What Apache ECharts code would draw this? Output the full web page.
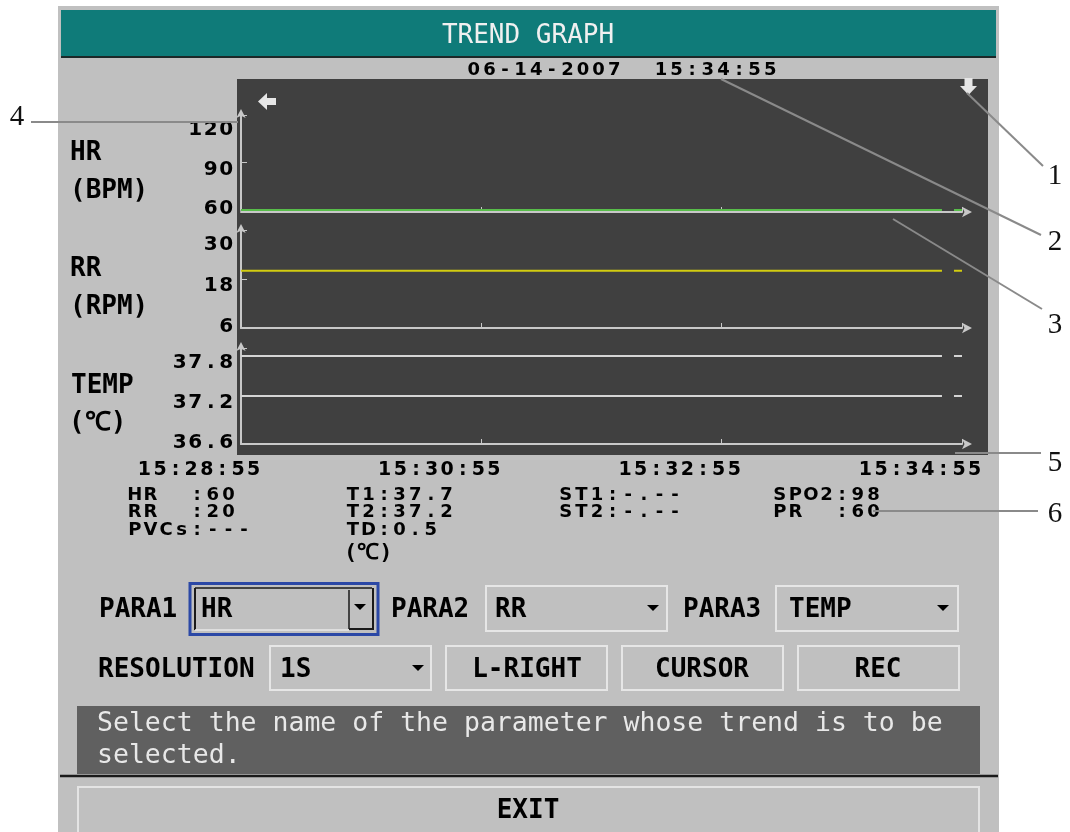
<!DOCTYPE html>
<html>
<head>
<meta charset="utf-8">
<script src="https://cdn.jsdelivr.net/npm/echarts@6/dist/echarts.min.js"></script>
<style>
html,body{margin:0;padding:0;background:#ffffff;}
#chart{width:1070px;height:832px;}
</style>
</head>
<body>
<div id="chart"></div>
<script>
// ---------------- data ----------------
const timeSec    = [0, 60, 120, 180, 240, 300, 350, 353, 356, 360];
const timeLabels = ['15:28:55', '15:30:55', '15:32:55', '15:34:55'];
const hrValues   = [60, 60, 60, 60, 60, 60, 60, null, 60, 60];
const rrValues   = [20, 20, 20, 20, 20, 20, 20, null, 20, 20];
const t1Values   = [37.7, 37.7, 37.7, 37.7, 37.7, 37.7, 37.7, null, 37.7, 37.7];
const t2Values   = [37.2, 37.2, 37.2, 37.2, 37.2, 37.2, 37.2, null, 37.2, 37.2];
const hrTicks    = [60, 90, 120];
const rrTicks    = [6, 18, 30];
const tempTicks  = [36.6, 37.2, 37.8];
const paramNames = ['HR', '(BPM)', 'RR', '(RPM)', 'TEMP', '(℃)'];
const statusCol1 = ['HR  :60', 'RR  :20', 'PVCs:---'];
const statusCol2 = ['T1:37.7', 'T2:37.2', 'TD:0.5'];
const statusCol3 = ['ST1:-.--', 'ST2:-.--'];
const statusCol4 = ['SPO2:98', 'PR  :60'];
const titleText  = 'TREND GRAPH';
const dateText   = '06-14-2007  15:34:55';
const helpLines  = ['Select the name of the parameter whose trend is to be', 'selected.'];

// ---------------- helpers ----------------
const MONO = 'DejaVu Sans Mono';
const WIDE = 'DejaVu Sans';
function chars(s, key) {
  return Array.from(s).map(c => '{' + key + '|' + c + '}').join('');
}
function smallRich(size, cell, color, extra) {
  return Object.assign({fontFamily: WIDE, fontWeight: 'bold', fontSize: size, width: cell,
    align: 'center', color: color, fill: color}, extra || {});
}
const G = [];
function rect(x, y, w, h, style, z) {
  G.push({type: 'rect', silent: true, z: (z === undefined ? -10 : z), shape: {x: x, y: y, width: w, height: h}, style: style});
}
function seg(x1, y1, x2, y2, stroke, lw, z) {
  G.push({type: 'line', silent: true, z: (z === undefined ? 5 : z), shape: {x1: x1, y1: y1, x2: x2, y2: y2}, style: {stroke: stroke, lineWidth: lw}});
}
function poly(points, fill, z) {
  G.push({type: 'polygon', silent: true, z: (z === undefined ? 5 : z), shape: {points: points}, style: {fill: fill}});
}
function smallText(x, y, s, size, color, align) {
  align = align || 'left';
  G.push({type: 'text', silent: true, z: 20, x: x, y: y, style: {
    text: chars(s, 'c'), align: align, verticalAlign: 'middle', textAlign: align, textVerticalAlign: 'middle',
    rich: {c: smallRich(size, 15.6, color)}}});
}
function bigText(x, y, s, size, color, align, weight, family) {
  align = align || 'left';
  G.push({type: 'text', silent: true, z: 20, x: x, y: y, style: {
    text: s, fill: color, fontSize: size, fontFamily: family || MONO, fontWeight: weight || 'bold',
    align: align, verticalAlign: 'middle', textAlign: align, textVerticalAlign: 'middle'}});
}

// ---------------- frame / backgrounds ----------------
rect(58, 6, 941, 826, {fill: '#c0c0c0'});
rect(61, 10, 935, 47, {fill: '#0f7b79'});
seg(61, 57, 996, 57, '#1c2828', 2, -9);
rect(237, 79, 751, 376, {fill: '#404040'});
rect(77, 706, 903, 68, {fill: '#606060'});
seg(60, 776, 998, 776, '#1a1a1a', 2.5, -9);
rect(78, 787, 901, 50, {fill: 'none', stroke: '#e4e4e4', lineWidth: 2}, -9);

// title & date
bigText(528, 36, titleText, 26, '#f0f0f0', 'center', 'normal');
smallText(622, 70, dateText, 18, '#000000', 'center');

// icons in plot
poly([[258, 101.5], [267, 93], [267, 110]], '#e6e6e6', 6);
rect(266, 98, 10, 7, {fill: '#e6e6e6'}, 6);
poly([[960, 86], [977, 86], [968.5, 95]], '#e6e6e6', 6);
rect(964.5, 78, 8, 9, {fill: '#e6e6e6'}, 6);

// parameter names at left
bigText(70, 153, paramNames[0], 26, '#000');
bigText(70, 191, paramNames[1], 26, '#000');
bigText(70, 269, paramNames[2], 26, '#000');
bigText(70, 307, paramNames[3], 26, '#000');
bigText(71, 386, paramNames[4], 26, '#000');
bigText(69, 423, paramNames[5], 26, '#000');

// status block
[statusCol1, statusCol2, statusCol3, statusCol4].forEach(function (col, ci) {
  const xs = [127, 345, 558, 772];
  col.forEach(function (s, ri) { smallText(xs[ci], 495 + ri * 17.5, s, 18, '#000'); });
});
bigText(344, 553, '(℃)', 22, '#000');

// controls
bigText(99, 610, 'PARA1', 26, '#000');
bigText(391, 610, 'PARA2', 26, '#000');
bigText(683, 610, 'PARA3', 26, '#000');
bigText(98, 670, 'RESOLUTION', 26, '#000');

rect(190, 583.5, 188, 51, {fill: 'none', stroke: '#2b48a6', lineWidth: 3}, -9);
seg(195, 588, 195, 630, '#1a1a1a', 2, -8);
seg(195, 588, 372, 588, '#1a1a1a', 1.5, -8);
seg(195, 630, 349, 630, '#e8e8e8', 1.5, -8);
seg(349, 590, 349, 629, '#1a1a1a', 1.5, -8);
seg(349, 629, 374, 629, '#1a1a1a', 2, -8);
seg(373, 588, 373, 629, '#1a1a1a', 2, -8);
rect(486, 586, 181, 45, {fill: 'none', stroke: '#e6e6e6', lineWidth: 2}, -9);
rect(776, 586, 182, 45, {fill: 'none', stroke: '#e6e6e6', lineWidth: 2}, -9);
rect(270, 646, 161, 44, {fill: 'none', stroke: '#e6e6e6', lineWidth: 2}, -9);
rect(446, 646, 161, 44, {fill: 'none', stroke: '#e6e6e6', lineWidth: 2}, -9);
rect(622, 646, 161, 44, {fill: 'none', stroke: '#e6e6e6', lineWidth: 2}, -9);
rect(798, 646, 161, 44, {fill: 'none', stroke: '#e6e6e6', lineWidth: 2}, -9);
[[360, 607], [653, 608], [943, 608], [418, 668]].forEach(function (p) {
  poly([[p[0] - 6, p[1] - 3], [p[0] + 6, p[1] - 3], [p[0], p[1] + 3]], '#000', 6);
});
bigText(201, 610, 'HR', 26, '#000');
bigText(495, 610, 'RR', 26, '#000');
bigText(789, 610, 'TEMP', 26, '#000');
bigText(280, 670, '1S', 26, '#000');
bigText(527, 670, 'L-RIGHT', 26, '#000', 'center');
bigText(702, 670, 'CURSOR', 26, '#000', 'center');
bigText(878, 670, 'REC', 26, '#000', 'center');
bigText(528, 811, 'EXIT', 26, '#000', 'center');

// help text
bigText(97, 724, helpLines[0], 26.5, '#e8e8e8', 'left', 'normal');
bigText(97, 756, helpLines[1], 26.5, '#e8e8e8', 'left', 'normal');

// callouts
const CALL = '#8a8a8a';
seg(31, 122, 238, 122, CALL, 2, 30);
seg(967, 93, 1043, 166, CALL, 2, 30);
seg(721, 79, 1041, 235, CALL, 2, 30);
seg(893, 219, 1042, 309, CALL, 2, 30);
seg(955, 453, 1041, 453, CALL, 2, 30);
seg(873, 511, 1038, 511, CALL, 2, 30);
const SERIF = 'Liberation Serif';
bigText(17, 117, '4', 29, '#111', 'center', 'normal', SERIF);
bigText(1055, 176, '1', 29, '#111', 'center', 'normal', SERIF);
bigText(1055, 242, '2', 29, '#111', 'center', 'normal', SERIF);
bigText(1055, 325, '3', 29, '#111', 'center', 'normal', SERIF);
bigText(1055, 463, '5', 29, '#111', 'center', 'normal', SERIF);
bigText(1055, 514, '6', 29, '#111', 'center', 'normal', SERIF);

// ---------------- axes ----------------
const AX = '#c8c8c8';
const grids = [
  {left: 241, top: 115, width: 721, height: 95},
  {left: 241, top: 230, width: 721, height: 98},
  {left: 241, top: 348, width: 721, height: 96}
].map(g => Object.assign(g, {containLabel: false, outerBoundsMode: 'none'}));

function xAx(i, showLabel, off) {
  return {
    type: 'value', gridIndex: i, min: 0, max: 360, interval: 120, offset: off || 0,
    axisLine: {show: true, onZero: false, symbol: ['none', 'arrow'], symbolSize: [8, 10], symbolOffset: [0, 10],
      lineStyle: {color: AX, width: 2}},
    axisTick: {show: true, inside: true, length: 5, lineStyle: {color: AX, width: 1}},
    splitLine: {show: false},
    axisLabel: {show: showLabel, margin: 17, padding: [0, 84, 0, 0], lineHeight: 18,
      formatter: function (v) { return chars(timeLabels[Math.round(v / 120)] || '', 'x'); },
      rich: {x: smallRich(19, 15.6, '#000', {lineHeight: 18})}}
  };
}
const shiftRich = {
  s0: smallRich(20, 15.5, '#000', {padding: [0, 0, 2, 0]}),
  s1: smallRich(20, 15.5, '#000', {padding: [14, 0, 0, 0]}),
  s2: smallRich(20, 15.5, '#000', {padding: [29, 0, 0, 0]})
};
function yAx(i, ticks) {
  return {
    type: 'value', gridIndex: i, min: ticks[0], max: ticks[ticks.length - 1], interval: ticks[1] - ticks[0],
    axisLine: {show: true, onZero: false, symbol: ['none', 'arrow'], symbolSize: [7, 9], symbolOffset: [0, 6],
      lineStyle: {color: AX, width: 2}},
    axisTick: {show: true, inside: true, length: 6, lineStyle: {color: AX, width: 1}},
    splitLine: {show: false},
    axisLabel: {show: true, margin: 7,
      formatter: function (v, idx) {
        let k = 0, best = Infinity;
        ticks.forEach(function (t, j) { if (Math.abs(t - v) < best) { best = Math.abs(t - v); k = j; } });
        return chars(String(ticks[k]), 's' + k);
      },
      rich: shiftRich}
  };
}
function mk(vals) { return timeSec.map((t, k) => [t, vals[k]]); }
function ser(i, vals, color) {
  return {type: 'line', xAxisIndex: i, yAxisIndex: i, data: mk(vals), showSymbol: false, symbol: 'none',
    connectNulls: false, lineStyle: {color: color, width: 2}, itemStyle: {color: color}, z: 3};
}

const chart = echarts.init(document.getElementById('chart'), null, {renderer: 'canvas'});
chart.setOption({
  animation: false,
  backgroundColor: '#ffffff',
  grid: grids,
  xAxis: [xAx(0, false, 2), xAx(1, false), xAx(2, true)],
  yAxis: [yAx(0, hrTicks), yAx(1, rrTicks), yAx(2, tempTicks)],
  series: [
    ser(0, hrValues, '#58bd4a'),
    ser(1, rrValues, '#d2cc10'),
    ser(2, t1Values, '#d4d4d4'),
    ser(2, t2Values, '#d4d4d4')
  ],
  graphic: {elements: G}
});
</script>
</body>
</html>
